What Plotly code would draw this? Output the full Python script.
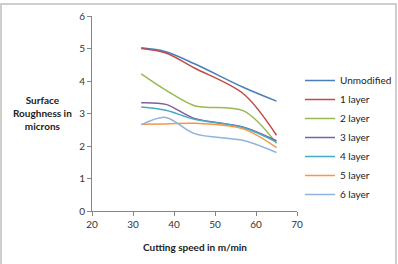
import plotly.graph_objects as go

speed = [32, 38, 45, 57, 65]
series_names = ["Unmodified", "1 layer", "2 layer", "3 layer", "4 layer", "5 layer", "6 layer"]
unmodified = [5.02, 4.9, 4.53, 3.8, 3.38]
layer1 = [5.0, 4.86, 4.4, 3.6, 2.33]
layer2 = [4.22, 3.72, 3.24, 3.08, 2.08]
layer3 = [3.33, 3.28, 2.85, 2.58, 2.16]
layer4 = [3.2, 3.1, 2.82, 2.56, 2.12]
layer5 = [2.67, 2.68, 2.7, 2.52, 1.95]
layer6 = [2.65, 2.88, 2.38, 2.17, 1.8]
values = [unmodified, layer1, layer2, layer3, layer4, layer5, layer6]
colors = ["#4A7EBB", "#BE4B48", "#98B954", "#7D60A0", "#46AAC5", "#F79646", "#8FB3DE"]
x_ticks = [20, 30, 40, 50, 60, 70]
y_ticks = [0, 1, 2, 3, 4, 5, 6]

W, H = 398, 264
L, R, T, B = 92, 101, 16, 53

fig = go.Figure()
for name, vals, c in zip(series_names, values, colors):
    fig.add_trace(go.Scatter(x=speed, y=vals, name=name, mode="lines",
                             line=dict(color=c, width=1.5, shape="spline", smoothing=0.9)))

font = "Lato, Open Sans, Liberation Sans, sans-serif"
axis_common = dict(showgrid=False, zeroline=False, showline=True, linecolor="#868686",
                   linewidth=1, ticks="outside", ticklen=4, tickcolor="#868686",
                   tickfont=dict(family=font, size=10, color="#333333"))
fig.update_xaxes(range=[20, 70], tickvals=x_ticks, **axis_common)
fig.update_yaxes(range=[0, 6], tickvals=y_ticks, **axis_common)

pw = W - L - R
ph = H - T - B
def px(x):
    return (x - L) / pw
def py(y):
    return (H - B - y) / ph

fig.update_layout(
    width=W, height=H,
    margin=dict(l=L, r=R, t=T, b=B, autoexpand=False),
    paper_bgcolor="white", plot_bgcolor="white",
    font=dict(family=font, size=10, color="#222222"),
    legend=dict(x=px(300), y=py(66), xanchor="left", yanchor="top",
                font=dict(family=font, size=10, color="#222222"),
                tracegroupgap=0, itemwidth=30, bgcolor="rgba(0,0,0,0)"),
    annotations=[
        dict(text="<b>Surface<br>Roughness in<br>microns</b>", x=px(42), y=py(113),
             xref="paper", yref="paper", showarrow=False, xanchor="center", yanchor="middle",
             font=dict(family=font, size=10, color="#222222"), align="center"),
        dict(text="<b>Cutting speed in m/min</b>", x=px(195), y=py(247),
             xref="paper", yref="paper", showarrow=False, xanchor="center", yanchor="middle",
             font=dict(family=font, size=10, color="#222222")),
    ],
    shapes=[dict(type="rect", xref="paper", yref="paper",
                 x0=px(1), x1=px(396), y0=py(270), y1=py(4),
                 line=dict(color="#BFBFBF", width=1.5), fillcolor="rgba(0,0,0,0)")],
)

fig.write_html("out.html")
